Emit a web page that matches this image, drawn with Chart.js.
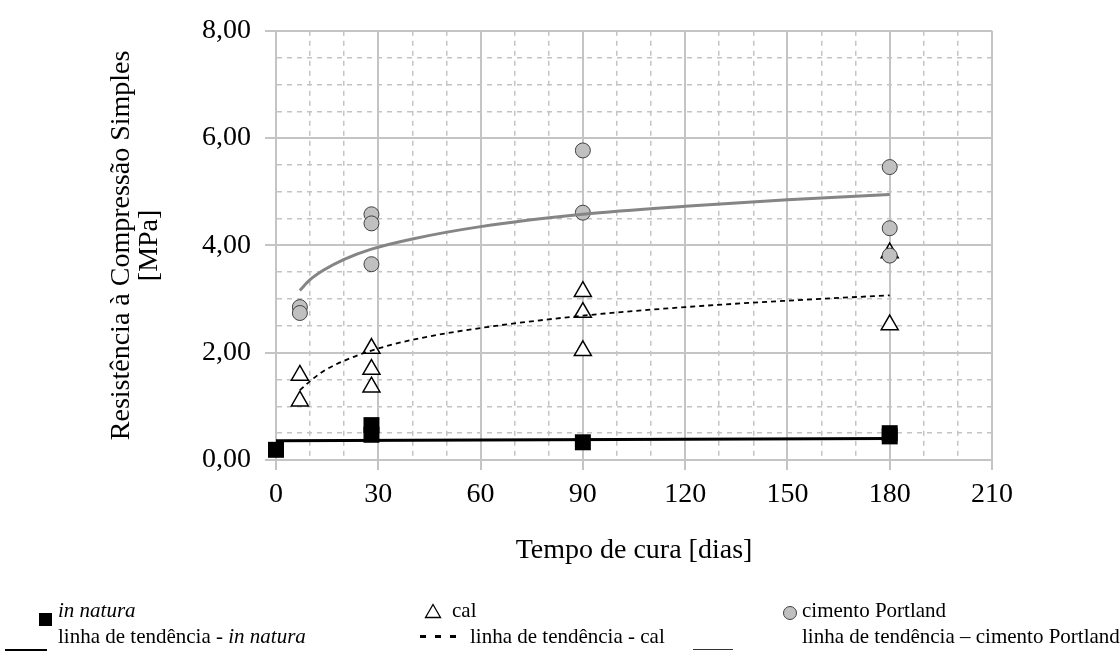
<!DOCTYPE html>
<html>
<head>
<meta charset="utf-8">
<script src="https://cdn.jsdelivr.net/npm/chart.js@4.4.1/dist/chart.umd.min.js"></script>
<style>
  body { margin: 0; background: #fff; }
  #wrap { position: relative; width: 1120px; height: 652px; font-family: "Liberation Serif", "Times New Roman", serif; }
  #chart { position: absolute; left: 0; top: 0; }
  .lg { position: absolute; font-size: 21px; line-height: 1; white-space: nowrap; color: #000; }
  .mk { position: absolute; }
</style>
</head>
<body>
<div id="wrap">
  <canvas id="chart" width="1120" height="652"></canvas>

  <!-- legend, row 1 -->
  <div class="mk" style="left:39px;top:613px;width:13px;height:13px;background:#000;"></div>
  <div class="lg" style="left:58px;top:600px;"><i>in natura</i></div>
  <svg class="mk" style="left:424px;top:603px;" width="18" height="16"><polygon points="9,1.5 16.5,14.5 1.5,14.5" fill="#fff" stroke="#000" stroke-width="1.3"/></svg>
  <div class="lg" style="left:452px;top:600px;">cal</div>
  <svg class="mk" style="left:782px;top:605px;" width="16" height="16"><circle cx="8" cy="8" r="6.5" fill="#c0c0c0" stroke="#404040" stroke-width="1"/></svg>
  <div class="lg" style="left:802px;top:600px;">cimento Portland</div>

  <!-- legend, row 2 -->
  <div class="mk" style="left:5px;top:649px;width:42px;height:1.5px;background:#000;"></div>
  <div class="lg" style="left:58px;top:626px;">linha de tendência - <i>in natura</i></div>
  <div class="mk" style="left:420px;top:635px;width:6px;height:3px;background:#000;"></div>
  <div class="mk" style="left:435px;top:635px;width:6px;height:3px;background:#000;"></div>
  <div class="mk" style="left:450px;top:635px;width:6px;height:3px;background:#000;"></div>
  <div class="lg" style="left:470px;top:626px;">linha de tendência - cal</div>
  <div class="mk" style="left:693px;top:649px;width:40px;height:1px;background:#333;"></div>
  <div class="lg" style="left:802px;top:626px;">linha de tendência – cimento Portland</div>
</div>
<script>
// measured points
const naturaDays = [0, 28, 28, 90, 180, 180];
const naturaValues = [0.19, 0.65, 0.47, 0.33, 0.50, 0.44];
const calDays = [7, 7, 28, 28, 28, 90, 90, 90, 180, 180];
const calValues = [1.58, 1.10, 2.08, 1.69, 1.36, 3.14, 2.75, 2.04, 3.86, 2.52];
const cimentoDays = [7, 7, 28, 28, 28, 90, 90, 180, 180, 180];
const cimentoValues = [2.85, 2.74, 4.58, 4.41, 3.65, 5.77, 4.61, 5.46, 4.32, 3.81];

// trend lines
const trendNaturaDays = [0, 180];
const trendNaturaValues = [0.36, 0.40];
const trendDays = [7, 10, 14, 20, 28, 40, 60, 90, 120, 150, 180];
const trendCalValues = [1.30, 1.47, 1.66, 1.85, 2.04, 2.24, 2.46, 2.69, 2.85, 2.97, 3.07];
const trendCimentoValues = [3.16, 3.36, 3.54, 3.74, 3.93, 4.12, 4.35, 4.58, 4.73, 4.85, 4.95];

// axes
const xMin = 0, xMax = 210, xMinor = 10, xMajor = 30;
const yMin = 0, yMax = 8, yMinor = 0.5, yMajor = 2;

const pts = (xs, ys) => xs.map((x, i) => ({ x: x, y: ys[i] }));
const gridGray = '#c4c4c4';
const serif = 'Liberation Serif';

const isMajor = (ctx, step) => ctx.tick ? Math.abs(ctx.tick.value / step - Math.round(ctx.tick.value / step)) < 1e-6 : true;

new Chart(document.getElementById('chart'), {
  type: 'scatter',
  data: {
    datasets: [
      {
        label: 'linha de tendência – cimento Portland',
        data: pts(trendDays, trendCimentoValues),
        showLine: true, borderColor: '#858585', borderWidth: 3,
        cubicInterpolationMode: 'monotone', pointRadius: 0, clip: false,
      },
      {
        label: 'linha de tendência - cal',
        data: pts(trendDays, trendCalValues),
        showLine: true, borderColor: '#000', borderWidth: 1.8, borderDash: [5, 4],
        cubicInterpolationMode: 'monotone', pointRadius: 0, clip: false,
      },
      {
        label: 'linha de tendência - in natura',
        data: pts(trendNaturaDays, trendNaturaValues),
        showLine: true, borderColor: '#000', borderWidth: 3,
        pointRadius: 0, clip: false,
      },
      {
        label: 'cimento Portland',
        data: pts(cimentoDays, cimentoValues),
        pointStyle: 'circle', pointRadius: 7.5,
        backgroundColor: '#c0c0c0', borderColor: '#404040', borderWidth: 1, clip: false,
      },
      {
        label: 'cal',
        data: pts(calDays, calValues),
        pointStyle: 'triangle', pointRadius: 9.8,
        backgroundColor: '#fff', borderColor: '#000', borderWidth: 1.5, clip: false,
      },
      {
        label: 'in natura',
        data: pts(naturaDays, naturaValues),
        pointStyle: 'rect', pointRadius: 11.3,
        backgroundColor: '#000', borderColor: '#000', borderWidth: 0, clip: false,
      },
    ],
  },
  options: {
    responsive: false,
    animation: false,
    layout: { padding: { left: 0, top: 28, right: 128, bottom: 82 } },
    plugins: { legend: { display: false }, tooltip: { enabled: false } },
    scales: {
      x: {
        type: 'linear', min: xMin, max: xMax,
        afterFit: (s) => { s.height = 110; },
        ticks: {
          stepSize: xMinor, autoSkip: false, maxTicksLimit: 100, maxRotation: 0, padding: 8,
          color: '#000', font: { family: serif, size: 28 },
          callback: (v) => (v % xMajor === 0 ? String(v) : ''),
        },
        grid: {
          color: gridGray,
          lineWidth: (c) => (isMajor(c, xMajor) ? 2 : 1.5),
          tickColor: (c) => (isMajor(c, xMajor) ? gridGray : 'rgba(0,0,0,0)'),
          tickLength: 10,
        },
        border: { color: gridGray, width: 2, dash: (c) => (isMajor(c, xMajor) ? [] : [5, 5]) },
        title: {
          display: true, text: 'Tempo de cura [dias]', color: '#000',
          font: { family: serif, size: 28 }, padding: { top: 0, bottom: 3 },
        },
      },
      y: {
        type: 'linear', min: yMin, max: yMax,
        afterFit: (s) => { s.width = 276; },
        ticks: {
          stepSize: yMinor, autoSkip: false, maxTicksLimit: 100, padding: 14,
          color: '#000', font: { family: serif, size: 28 },
          callback: (v) => (v % yMajor === 0 ? v.toFixed(2).replace('.', ',') : ''),
        },
        grid: {
          color: gridGray,
          lineWidth: (c) => (isMajor(c, yMajor) ? 2 : 1.5),
          tickColor: (c) => (isMajor(c, yMajor) ? gridGray : 'rgba(0,0,0,0)'),
          tickLength: 11,
        },
        border: { color: gridGray, width: 2, dash: (c) => (isMajor(c, yMajor) ? [] : [5, 5]) },
        title: {
          display: true, text: ['Resistência à Compressão Simples', '[MPa]'], color: '#000',
          font: { family: serif, size: 28, lineHeight: 1.0 }, padding: { top: 108, bottom: 0 },
        },
      },
    },
  },
});
</script>
</body>
</html>
